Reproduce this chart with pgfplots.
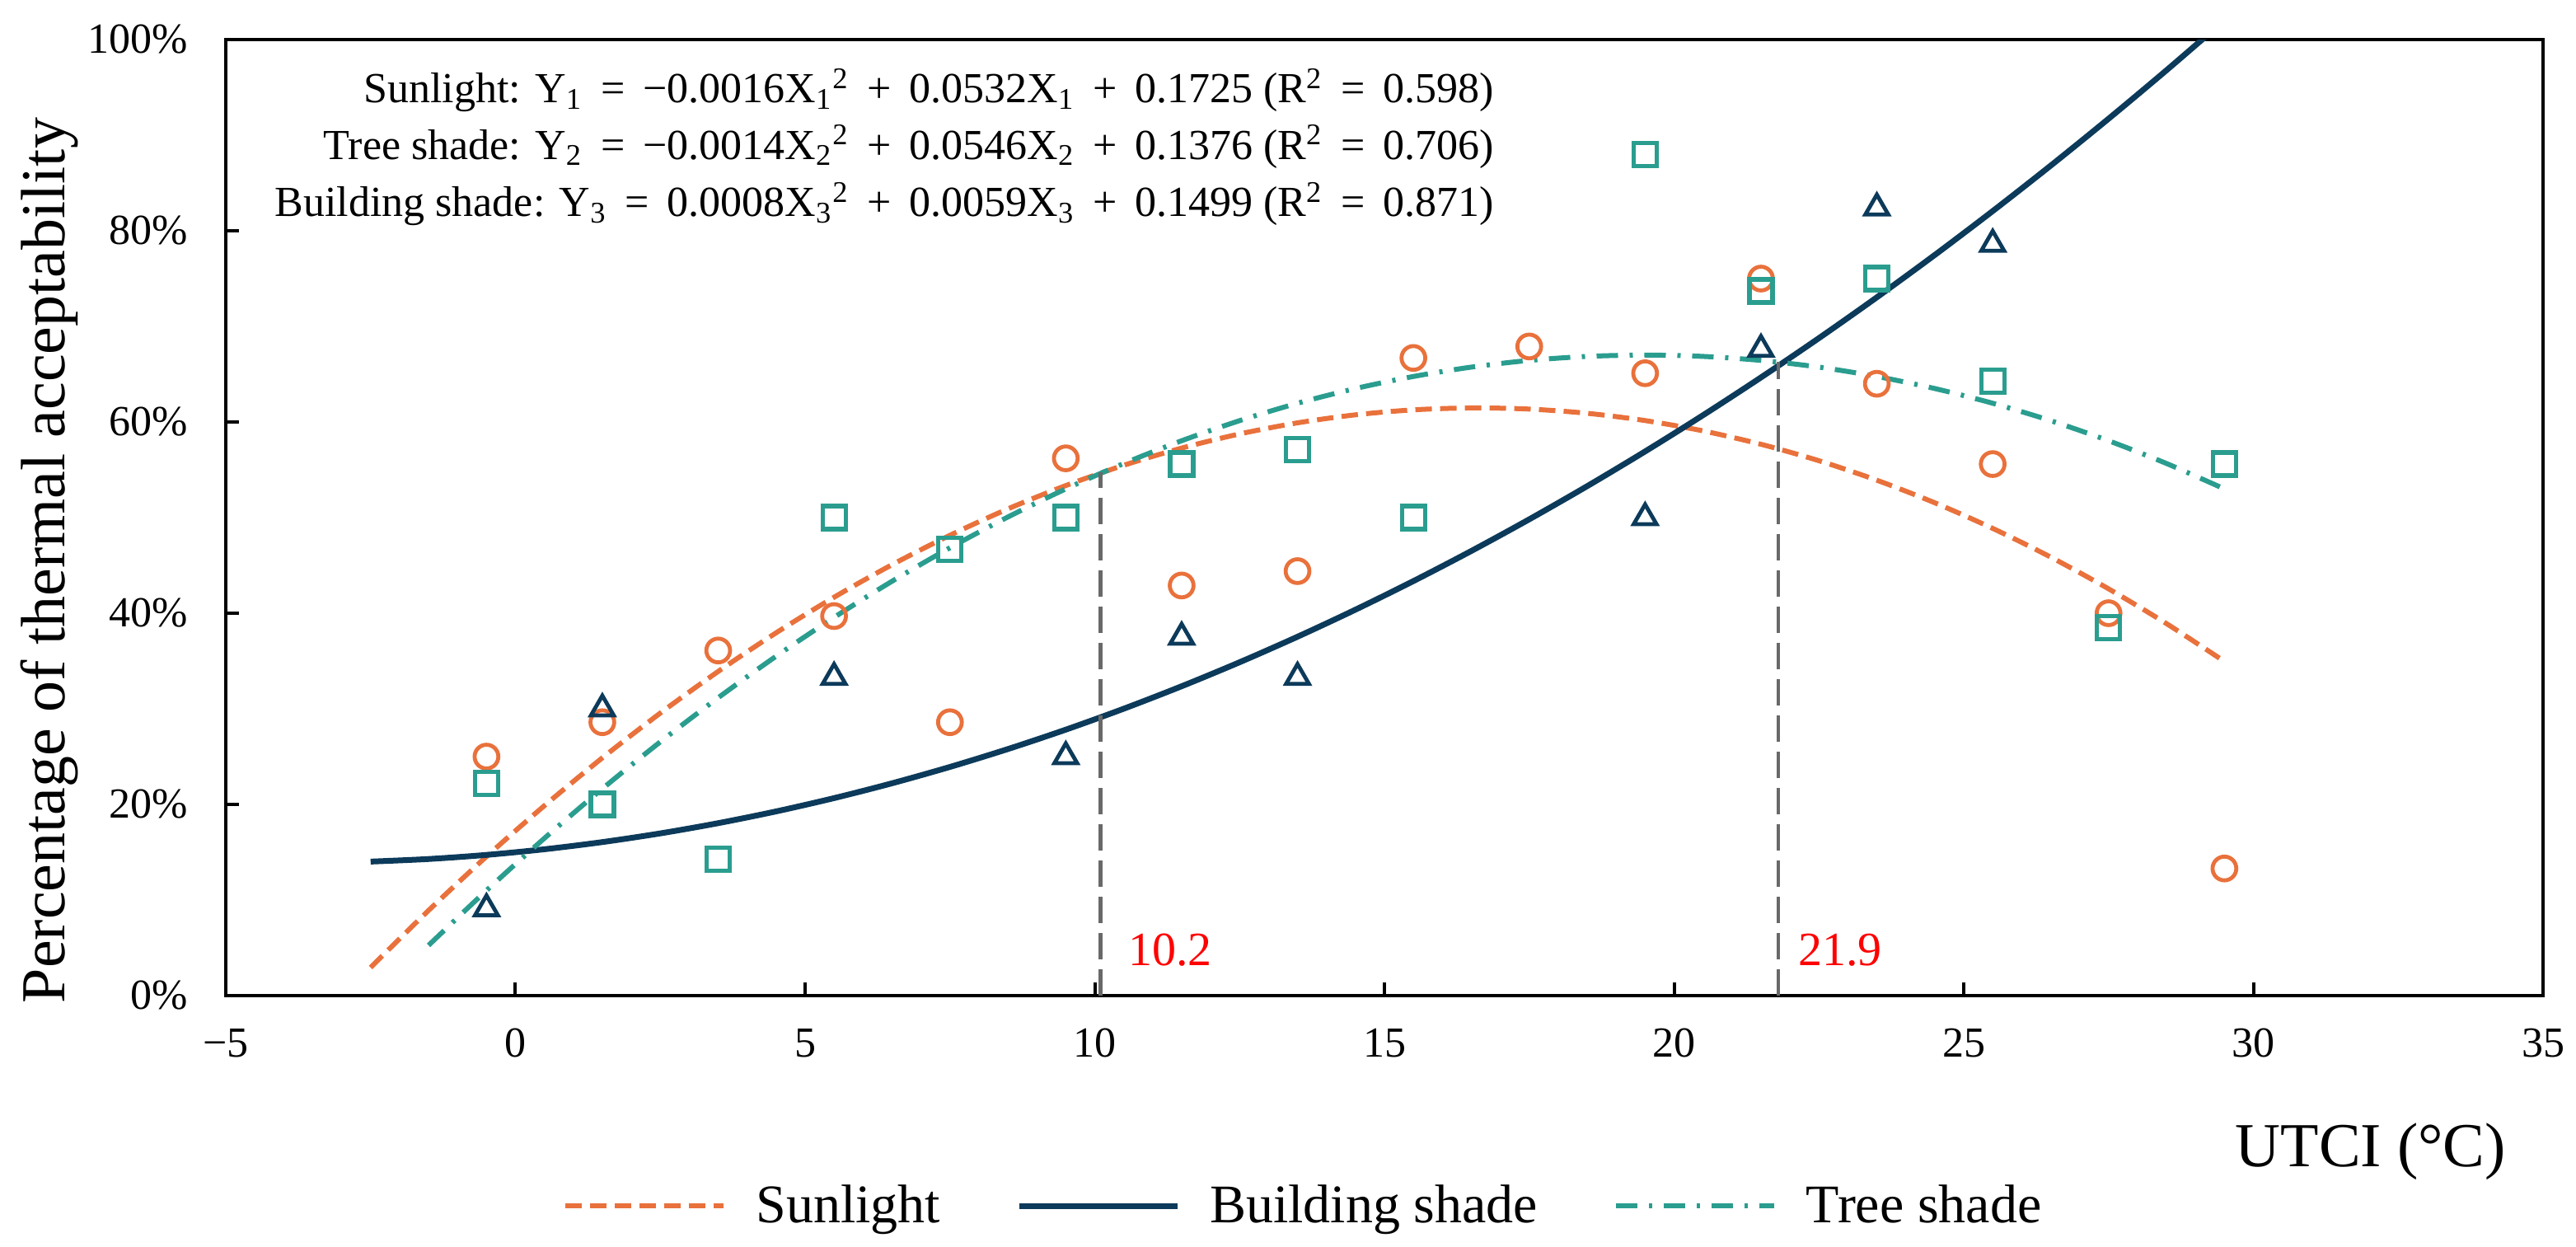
\documentclass[border=0pt]{standalone}
\usepackage{fontspec}
\setmainfont{Liberation Serif}
\usepackage{pgfplots}
\pgfplotsset{compat=1.18}

\definecolor{sun}{RGB}{233,113,60}
\definecolor{bld}{RGB}{12,58,90}
\definecolor{tree}{RGB}{42,157,143}
\definecolor{guide}{RGB}{105,105,105}

\newcommand\op[1]{\hspace{0.42em}#1\hspace{0.42em}}
\newcommand\sub[1]{\textsubscript{#1}}
\newcommand\sq{\textsuperscript{2}}

\begin{document}
\begin{tikzpicture}
\useasboundingbox (-68.5pt,-76pt) rectangle (713pt,302pt);
\begin{axis}[
  scale only axis, width=703pt, height=290pt,
  xmin=-5, xmax=35, ymin=0, ymax=100,
  xtick={-5,0,...,35}, xticklabels={−5,0,5,10,15,20,25,30,35},
  ytick={0,20,...,100}, yticklabels={0\%,20\%,40\%,60\%,80\%,100\%},
  tick align=inside, xtick pos=bottom, ytick pos=left,
  major tick length=4pt,
  every tick/.style={black, line width=1pt},
  axis line style={line width=1.2pt},
  tick label style={font=\fontsize{13}{15}\selectfont},
  xticklabel style={yshift=-6.5pt},
  yticklabel style={xshift=-8pt},
  xlabel={UTCI (°C)},
  xlabel style={at={(axis description cs:0.989,-0.179)}, anchor=base east, font=\fontsize{19}{22}\selectfont},
  ylabel={Percentage of thermal acceptability},
  ylabel style={at={(axis description cs:-0.0761,0.455)}, anchor=center, font=\fontsize{19}{22}\selectfont},
  legend columns=3,
  legend style={at={(axis description cs:0.466,-0.22)}, anchor=center, draw=none, fill=none,
    font=\fontsize{16.5}{19}\selectfont,
    /tikz/every odd column/.append style={column sep=7pt},
    /tikz/every even column/.append style={column sep=21pt}},
  legend image code/.code={\draw[#1] (0pt,0pt) -- (48pt,0pt);},
]

% fitted curves
\addplot[sun, line width=1.5pt, dash pattern=on 5pt off 2.5pt, smooth] coordinates {
(-2.5,2.95) (-1.5,8.91) (-0.5,14.55) (0.5,19.87) (1.5,24.87) (2.5,29.55) (3.5,33.91)
(4.5,37.95) (5.5,41.67) (6.5,45.07) (7.5,48.15) (8.5,50.91) (9.5,53.35) (10.5,55.47)
(11.5,57.27) (12.5,58.75) (13.5,59.91) (14.5,60.75) (15.5,61.27) (16.5,61.47) (17.5,61.35)
(18.5,60.91) (19.5,60.15) (20.5,59.07) (21.5,57.67) (22.5,55.95) (23.5,53.91) (24.5,51.55)
(25.5,48.87) (26.5,45.87) (27.5,42.55) (28.5,38.91) (29.5,34.95)};
\addlegendentry{Sunlight}

\addplot[bld, line width=1.75pt, smooth] coordinates {
(-2.5,14.02) (-1.5,14.29) (-0.5,14.72) (0.5,15.31) (1.5,16.06) (2.5,16.97) (3.5,18.04)
(4.5,19.27) (5.5,20.66) (6.5,22.21) (7.5,23.92) (8.5,25.79) (9.5,27.82) (10.5,30.01)
(11.5,32.36) (12.5,34.87) (13.5,37.54) (14.5,40.37) (15.5,43.36) (16.5,46.51) (17.5,49.82)
(18.5,53.29) (19.5,56.92) (20.5,60.71) (21.5,64.66) (22.5,68.77) (23.5,73.04) (24.5,77.47)
(25.5,82.06) (26.5,86.81) (27.5,91.72) (28.5,96.79) (29.5,102.02)};
\addlegendentry{Building shade}

\addplot[tree, line width=1.5pt, dash pattern=on 6.5pt off 3.5pt on 1pt off 3.5pt, smooth] coordinates {
(-1.5,5.26) (-0.5,11.00) (0.5,16.46) (1.5,21.64) (2.5,26.54) (3.5,31.16) (4.5,35.50)
(5.5,39.56) (6.5,43.34) (7.5,46.84) (8.5,50.06) (9.5,53.00) (10.5,55.66) (11.5,58.04)
(12.5,60.14) (13.5,61.96) (14.5,63.50) (15.5,64.76) (16.5,65.74) (17.5,66.44) (18.5,66.86)
(19.5,67.00) (20.5,66.86) (21.5,66.44) (22.5,65.74) (23.5,64.76) (24.5,63.50) (25.5,61.96)
(26.5,60.14) (27.5,58.04) (28.5,55.66) (29.5,53.00)};
\addlegendentry{Tree shade}

% guide lines at the intersections
\addplot[guide, line width=1.2pt, dash pattern=on 8pt off 3pt, forget plot] coordinates {(10.1,0) (10.1,54.7)};
\addplot[guide, line width=1.2pt, dash pattern=on 8pt off 3pt, forget plot] coordinates {(21.8,0) (21.8,66.3)};

% observations
\addplot[only marks, mark=o, mark size=3.6pt, sun, mark options={line width=1.2pt}, forget plot] coordinates {
(-0.5,25.0) (1.5,28.6) (3.5,36.1) (5.5,39.7) (7.5,28.6) (9.5,56.2) (11.5,42.9) (13.5,44.4)
(15.5,66.7) (17.5,67.9) (19.5,65.1) (21.5,75.0) (23.5,64.0) (25.5,55.6) (27.5,40.0) (29.5,13.3)};
\addplot[only marks, mark=square, mark size=3.5pt, tree, mark options={line width=1.3pt}, forget plot] coordinates {
(-0.5,22.2) (1.5,20.0) (3.5,14.3) (5.5,50.0) (7.5,46.7) (9.5,50.0) (11.5,55.6) (13.5,57.1)
(15.5,50.0) (19.5,88.0) (21.5,73.7) (23.5,75.0) (25.5,64.3) (27.5,38.5) (29.5,55.6)};
\addplot[only marks, mark=triangle, mark size=4pt, bld, mark options={line width=1.2pt}, forget plot] coordinates {
(-0.5,9.1) (1.5,30.0) (5.5,33.3) (9.5,25.0) (11.5,37.5) (13.5,33.3) (19.5,50.0) (21.5,67.6)
(23.5,82.4) (25.5,78.6)};

% fitted equations
\node[anchor=east, font=\fontsize{13}{15}\selectfont, inner sep=0pt] at (axis cs:16.9,94.7)
  {Sunlight: Y\sub1\op{=}−0.0016X\sub1\sq\op{+}0.0532X\sub1\op{+}0.1725 (R\sq\op{=}0.598)};
\node[anchor=east, font=\fontsize{13}{15}\selectfont, inner sep=0pt] at (axis cs:16.9,88.8)
  {Tree shade: Y\sub2\op{=}−0.0014X\sub2\sq\op{+}0.0546X\sub2\op{+}0.1376 (R\sq\op{=}0.706)};
\node[anchor=east, font=\fontsize{13}{15}\selectfont, inner sep=0pt] at (axis cs:16.9,82.8)
  {Building shade: Y\sub3\op{=}0.0008X\sub3\sq\op{+}0.0059X\sub3\op{+}0.1499 (R\sq\op{=}0.871)};

\node[anchor=west, text=red, font=\fontsize{14.5}{17}\selectfont, inner sep=0pt] at (axis cs:10.57,4.8) {10.2};
\node[anchor=west, text=red, font=\fontsize{14.5}{17}\selectfont, inner sep=0pt] at (axis cs:22.13,4.8) {21.9};
\end{axis}
\end{tikzpicture}
\end{document}
